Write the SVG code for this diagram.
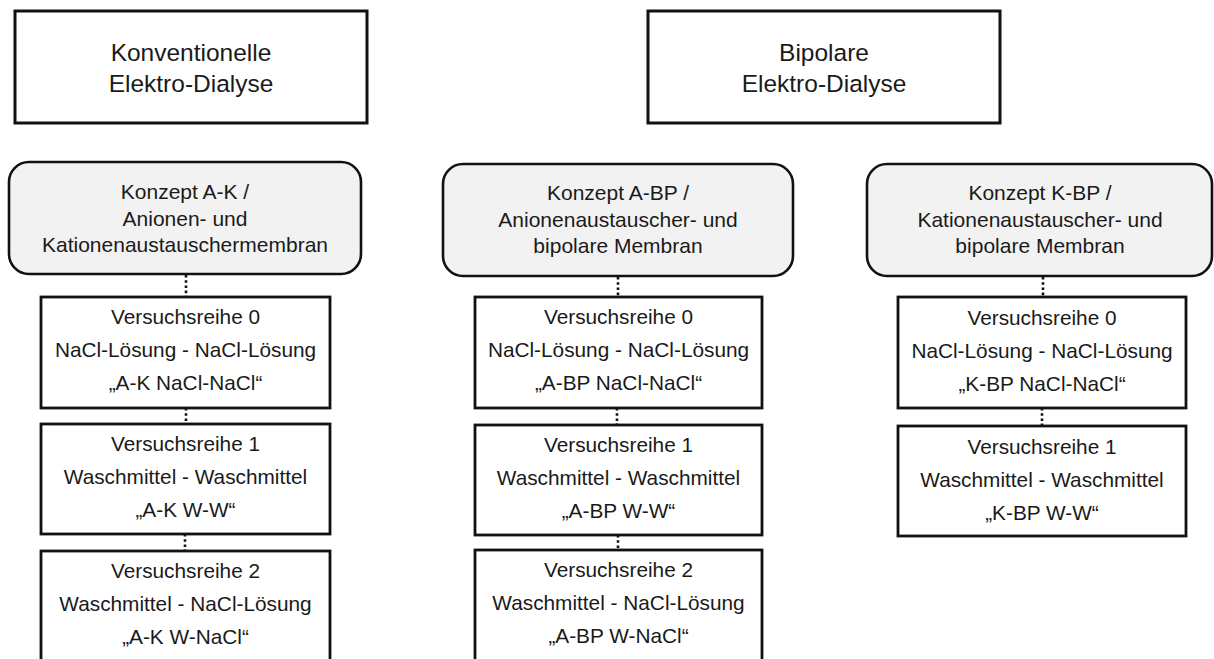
<svg xmlns="http://www.w3.org/2000/svg" width="1214" height="659" viewBox="0 0 1214 659">
  <style>
    .head { fill: #ffffff; stroke: #111111; stroke-width: 3; }
    .concept { fill: #f2f2f2; stroke: #111111; stroke-width: 2.6; }
    .series { fill: #ffffff; stroke: #111111; stroke-width: 2.8; }
    .link { stroke: #111111; stroke-width: 2.6; stroke-dasharray: 2.6 2.6; fill: none; }
    text { font-family: "Liberation Sans", Arial, sans-serif; fill: #1a1a1a; text-anchor: middle; }
    .t-head { font-size: 24.5px; }
    .t-concept { font-size: 21px; }
    .t-series { font-size: 20.8px; }
  </style>
  <rect width="1214" height="659" fill="#ffffff"/>

  <!-- top-level categories -->
  <g id="konventionelle-ed">
    <rect class="head" x="15" y="11" width="352" height="112"/>
    <text class="t-head" x="191" y="61">Konventionelle</text>
    <text class="t-head" x="191" y="92">Elektro-Dialyse</text>
  </g>
  <g id="bipolare-ed">
    <rect class="head" x="648" y="11" width="352" height="112"/>
    <text class="t-head" x="824" y="61">Bipolare</text>
    <text class="t-head" x="824" y="92">Elektro-Dialyse</text>
  </g>

  <!-- membrane concepts -->
  <g id="konzept-a-k">
    <rect class="concept" x="9" y="162" width="352" height="112" rx="20" ry="20"/>
    <text class="t-concept" x="185" y="199">Konzept A-K /</text>
    <text class="t-concept" x="185" y="226">Anionen- und</text>
    <text class="t-concept" x="185" y="252">Kationenaustauschermembran</text>
  </g>
  <g id="konzept-a-bp">
    <rect class="concept" x="443" y="164" width="350" height="112" rx="20" ry="20"/>
    <text class="t-concept" x="618" y="200">Konzept A-BP /</text>
    <text class="t-concept" x="618" y="227">Anionenaustauscher- und</text>
    <text class="t-concept" x="618" y="253">bipolare Membran</text>
  </g>
  <g id="konzept-k-bp">
    <rect class="concept" x="867" y="164" width="345" height="112" rx="20" ry="20"/>
    <text class="t-concept" x="1040" y="200">Konzept K-BP /</text>
    <text class="t-concept" x="1040" y="227">Kationenaustauscher- und</text>
    <text class="t-concept" x="1040" y="253">bipolare Membran</text>
  </g>

  <!-- test series, concept A-K -->
  <g id="ak-reihe-0">
    <rect class="series" x="41" y="297" width="289" height="111"/>
    <text class="t-series" x="185.5" y="324">Versuchsreihe 0</text>
    <text class="t-series" x="185.5" y="357">NaCl-Lösung - NaCl-Lösung</text>
    <text class="t-series" x="185.5" y="390">„A-K NaCl-NaCl“</text>
  </g>
  <g id="ak-reihe-1">
    <rect class="series" x="41" y="424" width="289" height="110"/>
    <text class="t-series" x="185.5" y="451">Versuchsreihe 1</text>
    <text class="t-series" x="185.5" y="484">Waschmittel - Waschmittel</text>
    <text class="t-series" x="185.5" y="517">„A-K W-W“</text>
  </g>
  <g id="ak-reihe-2">
    <rect class="series" x="41" y="551" width="289" height="112"/>
    <text class="t-series" x="185.5" y="578">Versuchsreihe 2</text>
    <text class="t-series" x="185.5" y="611">Waschmittel - NaCl-Lösung</text>
    <text class="t-series" x="185.5" y="644">„A-K W-NaCl“</text>
  </g>

  <!-- test series, concept A-BP -->
  <g id="abp-reihe-0">
    <rect class="series" x="475" y="297" width="287" height="111"/>
    <text class="t-series" x="618.5" y="324">Versuchsreihe 0</text>
    <text class="t-series" x="618.5" y="357">NaCl-Lösung - NaCl-Lösung</text>
    <text class="t-series" x="618.5" y="390">„A-BP NaCl-NaCl“</text>
  </g>
  <g id="abp-reihe-1">
    <rect class="series" x="475" y="425" width="287" height="110"/>
    <text class="t-series" x="618.5" y="452">Versuchsreihe 1</text>
    <text class="t-series" x="618.5" y="485">Waschmittel - Waschmittel</text>
    <text class="t-series" x="618.5" y="518">„A-BP W-W“</text>
  </g>
  <g id="abp-reihe-2">
    <rect class="series" x="475" y="550" width="287" height="113"/>
    <text class="t-series" x="618.5" y="577">Versuchsreihe 2</text>
    <text class="t-series" x="618.5" y="610">Waschmittel - NaCl-Lösung</text>
    <text class="t-series" x="618.5" y="643">„A-BP W-NaCl“</text>
  </g>

  <!-- test series, concept K-BP -->
  <g id="kbp-reihe-0">
    <rect class="series" x="898" y="297" width="288" height="111"/>
    <text class="t-series" x="1042" y="325">Versuchsreihe 0</text>
    <text class="t-series" x="1042" y="358">NaCl-Lösung - NaCl-Lösung</text>
    <text class="t-series" x="1042" y="391">„K-BP NaCl-NaCl“</text>
  </g>
  <g id="kbp-reihe-1">
    <rect class="series" x="898" y="426" width="288" height="110"/>
    <text class="t-series" x="1042" y="454">Versuchsreihe 1</text>
    <text class="t-series" x="1042" y="487">Waschmittel - Waschmittel</text>
    <text class="t-series" x="1042" y="520">„K-BP W-W“</text>
  </g>

  <!-- dotted links between concept and its test series -->
  <g id="connectors">
    <line class="link" x1="186" y1="275" x2="186" y2="297"/>
    <line class="link" x1="186" y1="408" x2="186" y2="424"/>
    <line class="link" x1="185" y1="534" x2="185" y2="551"/>
    <line class="link" x1="618" y1="277" x2="618" y2="297"/>
    <line class="link" x1="617" y1="408" x2="617" y2="425"/>
    <line class="link" x1="618" y1="535" x2="618" y2="550"/>
    <line class="link" x1="1043" y1="277" x2="1043" y2="297"/>
    <line class="link" x1="1042" y1="408" x2="1042" y2="426"/>
  </g>
</svg>
